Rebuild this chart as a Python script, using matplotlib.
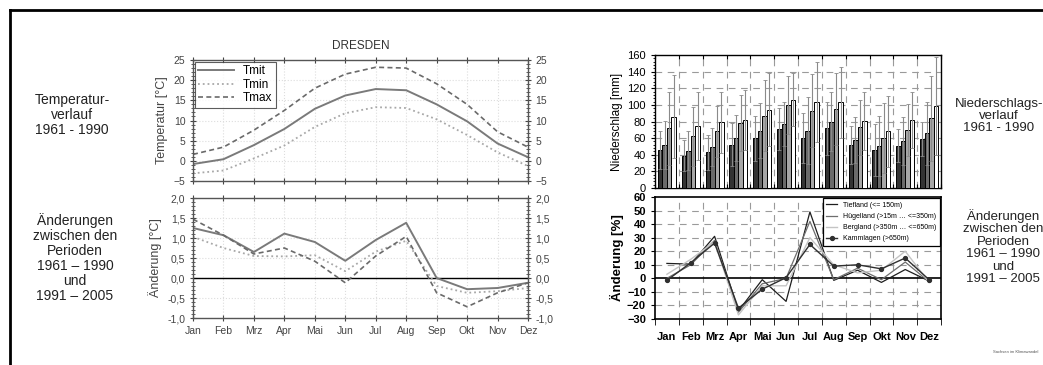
import matplotlib
matplotlib.use("Agg")
import matplotlib.pyplot as plt
import numpy as np
from matplotlib.ticker import MultipleLocator, FuncFormatter
from matplotlib.lines import Line2D

plt.rcParams["font.family"] = ["Liberation Sans", "DejaVu Sans"]

# --- data -------------------------------------------------------------
months = ["Jan", "Feb", "Mrz", "Apr", "Mai", "Jun", "Jul", "Aug", "Sep", "Okt", "Nov", "Dez"]

# Dresden 1961-1990
tmit = [-0.8, 0.4, 3.9, 7.9, 12.9, 16.2, 17.8, 17.5, 14.0, 9.8, 4.3, 0.9]
tmin = [-3.1, -2.4, 0.6, 3.8, 8.4, 11.8, 13.3, 13.1, 10.3, 6.4, 2.1, -1.3]
tmax = [1.6, 3.4, 7.6, 12.5, 18.0, 21.5, 23.2, 23.0, 19.1, 14.0, 7.2, 3.4]

# change 1991-2005 vs 1961-1990
d_tmit = [1.25, 1.07, 0.65, 1.11, 0.90, 0.43, 0.95, 1.38, 0.0, -0.28, -0.25, -0.12]
d_tmin = [1.03, 0.75, 0.55, 0.54, 0.57, 0.17, 0.66, 0.93, -0.20, -0.37, -0.33, -0.25]
d_tmax = [1.47, 1.07, 0.60, 0.75, 0.42, -0.12, 0.55, 1.04, -0.37, -0.72, -0.37, -0.12]

# precipitation 1961-1990 [mm] and spread
regions = ["Tiefland (<= 150m)", "Hügelland (>15m … <=350m)",
           "Bergland (>350m … <=650m)", "Kammlagen (>650m)"]
p_tief = [46, 39, 43, 52, 60, 71, 60, 72, 52, 46, 51, 59]
p_hueg = [52, 45, 49, 60, 69, 77, 69, 80, 58, 51, 57, 66]
p_berg = [72, 62, 68, 78, 87, 100, 93, 95, 73, 60, 70, 84]
p_kamm = [86, 75, 79, 82, 94, 106, 103, 103, 81, 68, 82, 99]
sd_tief = [23, 19, 21, 26, 27, 25, 30, 32, 23, 31, 20, 20]
sd_hueg = [29, 23, 23, 28, 33, 27, 40, 36, 28, 36, 29, 38]
sd_berg = [44, 35, 31, 34, 43, 35, 44, 43, 33, 42, 31, 51]
sd_kamm = [50, 41, 37, 36, 44, 32, 48, 43, 35, 43, 34, 59]

# precipitation change [%]
c_tief = [11, 10.5, 31, -24, -1, -17, 49, -1.5, 6, -3, 6.5, -2]
c_hueg = [0, 10, 28, -25, -4, 0, 42, -1, 7.5, -1, 12, -2.5]
c_berg = [3, 14, 27, -27, -5.5, -5.5, 30, 10, 4, 6, 20, -3]
c_kamm = [-1.5, 11.5, 26, -22, -8, 0.5, 25, 9, 10, 7, 15, -1]

# --- figure -----------------------------------------------------------
W, H = 1043, 365
fig = plt.figure(figsize=(W / 100, H / 100), dpi=100)


def box(x0, y0, x1, y1):
    # pixel box -> figure fraction
    return [x0 / W, 1 - y1 / H, (x1 - x0) / W, (y1 - y0) / H]


# frame of the slide
fig.add_artist(Line2D([10 / W, 10 / W], [0, 1 - 10 / H], color="black", lw=2))
fig.add_artist(Line2D([10 / W, 1], [1 - 10 / H, 1 - 10 / H], color="black", lw=2))

x = np.arange(12)
comma = FuncFormatter(lambda v, p: f"{v:.1f}".replace(".", ","))
tc = "#444444"


def style_left(ax):
    ax.set_xlim(0, 11)
    ax.set_xticks(x)
    ax.tick_params(axis="both", which="both", direction="inout", top=True, right=True,
                   labelright=True, labelsize=7.5, colors=tc, length=4, width=0.8)
    ax.tick_params(which="minor", length=2.5, width=0.6)
    ax.grid(True, which="major", color="#dddddd", ls=":", lw=0.8)
    for s in ax.spines.values():
        s.set_color("#555555")
        s.set_linewidth(1.0)


ax1 = fig.add_axes(box(193, 60, 528, 181))
ax1.plot(x, tmit, color="#7a7a7a", lw=1.4, label="Tmit")
ax1.plot(x, tmin, color="#a8a8a8", lw=1.3, ls=":", label="Tmin")
ax1.plot(x, tmax, color="#6a6a6a", lw=1.2, ls=(0, (3, 2)), label="Tmax")
ax1.set_ylim(-5, 25)
ax1.yaxis.set_major_locator(MultipleLocator(5))
ax1.yaxis.set_minor_locator(MultipleLocator(1))
style_left(ax1)
ax1.tick_params(labelbottom=False)
ax1.set_ylabel("Temperatur [°C]", fontsize=9, color=tc, labelpad=4)
ax1.set_title("DRESDEN", fontsize=8.5, color="#333333", pad=8)
leg = ax1.legend(loc="upper left", fontsize=8.5, frameon=True, fancybox=False,
                 handlelength=3.0, borderpad=0.3, labelspacing=0.12,
                 borderaxespad=0.15)
leg.get_frame().set_edgecolor("#333333")
leg.get_frame().set_linewidth(0.8)

ax2 = fig.add_axes(box(193, 198, 528, 318))
ax2.axhline(0, color="black", lw=1.0)
ax2.plot(x, d_tmit, color="#7a7a7a", lw=1.4)
ax2.plot(x, d_tmin, color="#a8a8a8", lw=1.3, ls=":")
ax2.plot(x, d_tmax, color="#6a6a6a", lw=1.2, ls=(0, (3, 2)))
ax2.set_ylim(-1.0, 2.0)
ax2.yaxis.set_major_locator(MultipleLocator(0.5))
ax2.yaxis.set_minor_locator(MultipleLocator(0.1))
ax2.yaxis.set_major_formatter(comma)
style_left(ax2)
ax2.set_xticklabels(months)
ax2.set_ylabel("Änderung [°C]", fontsize=9, color=tc, labelpad=4)

# --- precipitation bars -----------------------------------------------
ax3 = fig.add_axes(box(655, 55, 941, 188))
bar_vals = [p_tief, p_hueg, p_berg, p_kamm]
bar_sds = [sd_tief, sd_hueg, sd_berg, sd_kamm]
bar_cols = ["#333333", "#6a6a6a", "#a6a6a6", "#ffffff"]
offs = [-0.285, -0.095, 0.095, 0.285]
for vals, sds, col, o in zip(bar_vals, bar_sds, bar_cols, offs):
    ax3.bar(x + o, vals, width=0.19, color=col, edgecolor="black", lw=0.7, zorder=3)
    ax3.errorbar(x + o, vals, yerr=sds, fmt="none", ecolor="#8a8a8a",
                 elinewidth=0.8, capsize=1.5, capthick=0.6, zorder=4)
ax3.set_xlim(-0.5, 11.5)
ax3.set_ylim(0, 160)
ax3.yaxis.set_major_locator(MultipleLocator(20))
ax3.yaxis.set_minor_locator(MultipleLocator(4))
ax3.set_xticks(np.arange(-0.5, 12, 1))
ax3.tick_params(axis="x", labelbottom=False, length=3, direction="in", top=True)
ax3.tick_params(axis="y", labelsize=8, length=3, direction="out")
ax3.tick_params(axis="y", which="minor", length=1.5)
for v in np.arange(0.5, 11, 1):
    ax3.axvline(v, color="#9a9a9a", ls=(0, (6, 5)), lw=0.8, zorder=1)
for v in range(20, 160, 20):
    ax3.axhline(v, color="#9a9a9a", ls=(0, (6, 5)), lw=0.8, zorder=1)
for s in ax3.spines.values():
    s.set_linewidth(1.0)
ax3.set_ylabel("Niederschlag [mm]", fontsize=8.5, labelpad=3)

# --- precipitation change ---------------------------------------------
ax4 = fig.add_axes(box(655, 197, 941, 319))
ax4.axhline(0, color="black", lw=1.2, zorder=2)
ax4.plot(x, c_tief, color="#1e1e1e", lw=0.9, label=regions[0], zorder=3)
ax4.plot(x, c_hueg, color="#6e6e6e", lw=0.9, label=regions[1], zorder=3)
ax4.plot(x, c_berg, color="#c4c4c4", lw=1.0, label=regions[2], zorder=3)
ax4.plot(x, c_kamm, color="#303030", lw=1.0, marker="o", ms=2.8,
         label=regions[3], zorder=4)
ax4.set_xlim(-0.5, 11.5)
ax4.set_ylim(-30, 60)
ax4.yaxis.set_major_locator(MultipleLocator(10))
ax4.set_xticks(x)
ax4.set_xticklabels(months, fontweight="bold")
ax4.set_xticks(np.arange(-0.5, 12, 1), minor=True)
ax4.tick_params(axis="x", which="major", length=0, labelsize=8, pad=9)
ax4.tick_params(axis="x", which="minor", length=4, direction="out")
ax4.tick_params(axis="y", labelsize=8, length=3)
for lab in ax4.get_yticklabels():
    lab.set_fontweight("bold")
for v in np.arange(0.5, 11, 1):
    ax4.axvline(v, color="#9a9a9a", ls=(0, (6, 5)), lw=0.8, zorder=1)
for v in range(-20, 60, 10):
    if v != 0:
        ax4.axhline(v, color="#9a9a9a", ls=(0, (6, 5)), lw=0.8, zorder=1)
for s in ax4.spines.values():
    s.set_linewidth(1.2)
ax4.set_ylabel("Änderung [%]", fontsize=9.5, fontweight="bold", labelpad=2)
leg2 = ax4.legend(loc="upper right", fontsize=5, frameon=True, fancybox=False,
                  handlelength=1.6, borderpad=0.5, labelspacing=0.6,
                  borderaxespad=0.2, framealpha=1)
leg2.get_frame().set_edgecolor("black")
leg2.get_frame().set_linewidth(0.9)

# --- side captions ----------------------------------------------------
cap = dict(ha="center", va="center", fontsize=10, color="#222222", linespacing=1.1)
fig.text(72 / W, 1 - 115 / H, "Temperatur-\nverlauf\n1961 - 1990", **cap)
fig.text(75 / W, 1 - 258 / H,
         "Änderungen\nzwischen den\nPerioden\n1961 – 1990\nund\n1991 – 2005", **cap)
cap_r = dict(cap, fontsize=9.5, linespacing=1.05)
fig.text(999 / W, 1 - 116 / H, "Niederschlags-\nverlauf\n1961 - 1990", **cap_r)
fig.text(1003 / W, 1 - 247 / H,
         "Änderungen\nzwischen den\nPerioden\n1961 – 1990\nund\n1991 – 2005", **cap_r)
fig.text(993 / W, 1 - 352 / H, "Sachsen im Klimawandel", fontsize=3, color="#555555",
         va="center")

fig.savefig("out.png", dpi=100)
